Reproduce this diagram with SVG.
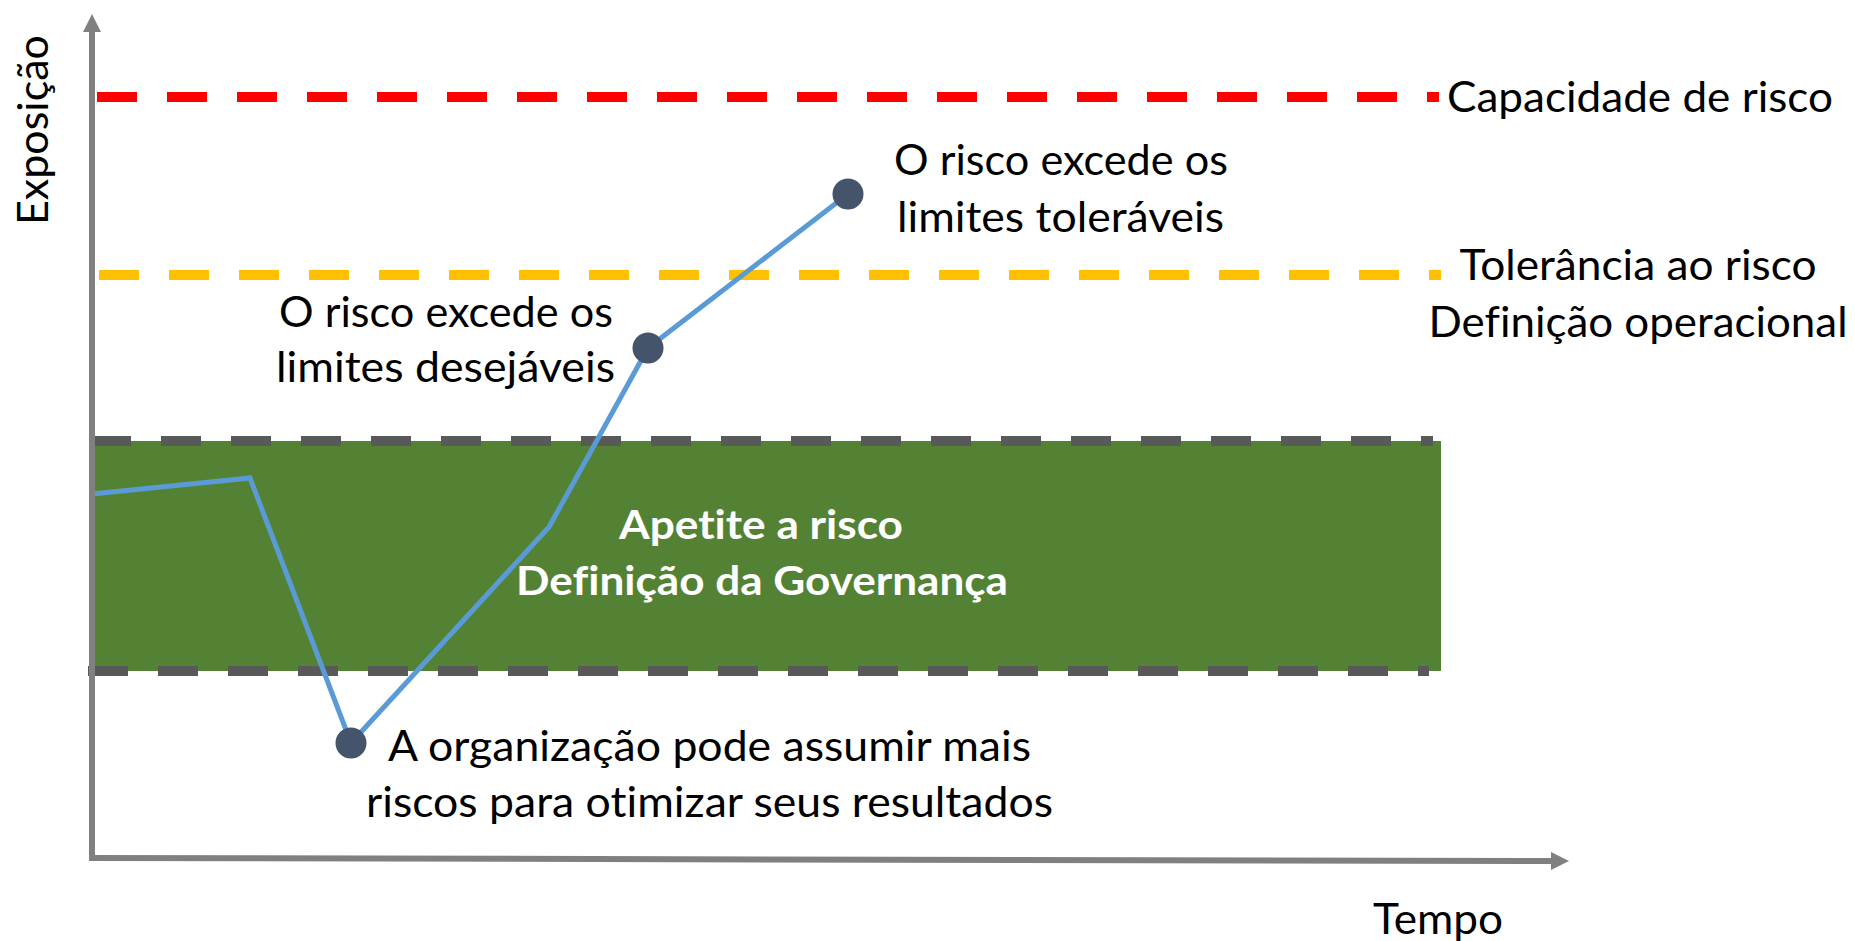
<svg xmlns="http://www.w3.org/2000/svg" width="1855" height="941" viewBox="0 0 1855 941">
  <style>
    .t { font-family: Lato, "Open Sans", "Liberation Sans", sans-serif; font-size: 42px; fill: #000; font-variant-ligatures: none; font-feature-settings: "liga" 0, "clig" 0, "dlig" 0, "calt" 0; }
    .tb { font-family: Lato, "Open Sans", "Liberation Sans", sans-serif; font-size: 41px; font-weight: bold; fill: #fff; font-variant-ligatures: none; font-feature-settings: "liga" 0, "clig" 0, "dlig" 0, "calt" 0; }
    .axis { stroke: #808080; stroke-width: 6; fill: none; }
    .lim { fill: none; stroke-width: 10; stroke-dasharray: 40 30; }
    .band-edge { fill: none; stroke: #595959; stroke-width: 10; stroke-dasharray: 40 30; }
    .risk { fill: none; stroke: #5B9BD5; stroke-width: 5; stroke-linejoin: miter; }
    .dot { fill: #44546A; }
  </style>
  <defs>
    <marker id="arrow" markerUnits="userSpaceOnUse" markerWidth="18" markerHeight="18" refX="0" refY="9" orient="auto">
      <path d="M0,0 L18,9 L0,18 z" fill="#808080"/>
    </marker>
  </defs>
  <rect width="1855" height="941" fill="#fff"/>

  <g id="capacidade">
    <line class="lim" x1="97" y1="97" x2="1439" y2="97" stroke="#FF0000"/>
    <text class="t" x="1447" y="112" textLength="386" lengthAdjust="spacingAndGlyphs">Capacidade de risco</text>
  </g>

  <g id="tolerancia">
    <line class="lim" x1="99" y1="275" x2="1441" y2="275" stroke="#FFC000"/>
    <text class="t" x="1638" y="280" text-anchor="middle" textLength="357" lengthAdjust="spacingAndGlyphs">Tolerância ao risco</text>
    <text class="t" x="1638" y="337" text-anchor="middle" textLength="419" lengthAdjust="spacingAndGlyphs">Definição operacional</text>
  </g>

  <g id="apetite">
    <rect x="92" y="441" width="1349" height="230" fill="#548235"/>
    <line class="band-edge" x1="91" y1="441" x2="1433" y2="441"/>
    <line class="band-edge" x1="88" y1="671" x2="1429" y2="671"/>
    <text class="tb" x="761" y="539" text-anchor="middle" textLength="284" lengthAdjust="spacingAndGlyphs">Apetite a risco</text>
    <text class="tb" x="762" y="595" text-anchor="middle" textLength="492" lengthAdjust="spacingAndGlyphs">Definição da Governança</text>
  </g>

  <g id="connectors">
    <polyline class="risk" points="92,494 250,478 351,743 549,527 648,348 848,194"/>
  </g>

  <g id="axes">
    <line class="axis" x1="92" y1="861" x2="92" y2="32" marker-end="url(#arrow)"/>
    <line class="axis" x1="89" y1="858" x2="1551" y2="861" marker-end="url(#arrow)"/>
    <text class="t" transform="translate(48,130) rotate(-90)" text-anchor="middle" textLength="190" lengthAdjust="spacingAndGlyphs">Exposição</text>
    <text class="t" x="1438" y="934" text-anchor="middle" textLength="130" lengthAdjust="spacingAndGlyphs">Tempo</text>
  </g>

  <g id="ponto-otimizar">
    <circle class="dot" cx="351" cy="743" r="15.5"/>
    <text class="t" x="709.5" y="761" text-anchor="middle" textLength="643" lengthAdjust="spacingAndGlyphs">A organização pode assumir mais</text>
    <text class="t" x="709.5" y="817" text-anchor="middle" textLength="687" lengthAdjust="spacingAndGlyphs">riscos para otimizar seus resultados</text>
  </g>

  <g id="ponto-desejaveis">
    <circle class="dot" cx="648" cy="348" r="15.5"/>
    <text class="t" x="446" y="327" text-anchor="middle" textLength="334" lengthAdjust="spacingAndGlyphs">O risco excede os</text>
    <text class="t" x="445.5" y="382" text-anchor="middle" textLength="339" lengthAdjust="spacingAndGlyphs">limites desejáveis</text>
  </g>

  <g id="ponto-toleraveis">
    <circle class="dot" cx="848" cy="194" r="15.5"/>
    <text class="t" x="1061" y="175" text-anchor="middle" textLength="334" lengthAdjust="spacingAndGlyphs">O risco excede os</text>
    <text class="t" x="1060.5" y="232" text-anchor="middle" textLength="327" lengthAdjust="spacingAndGlyphs">limites toleráveis</text>
  </g>
</svg>
